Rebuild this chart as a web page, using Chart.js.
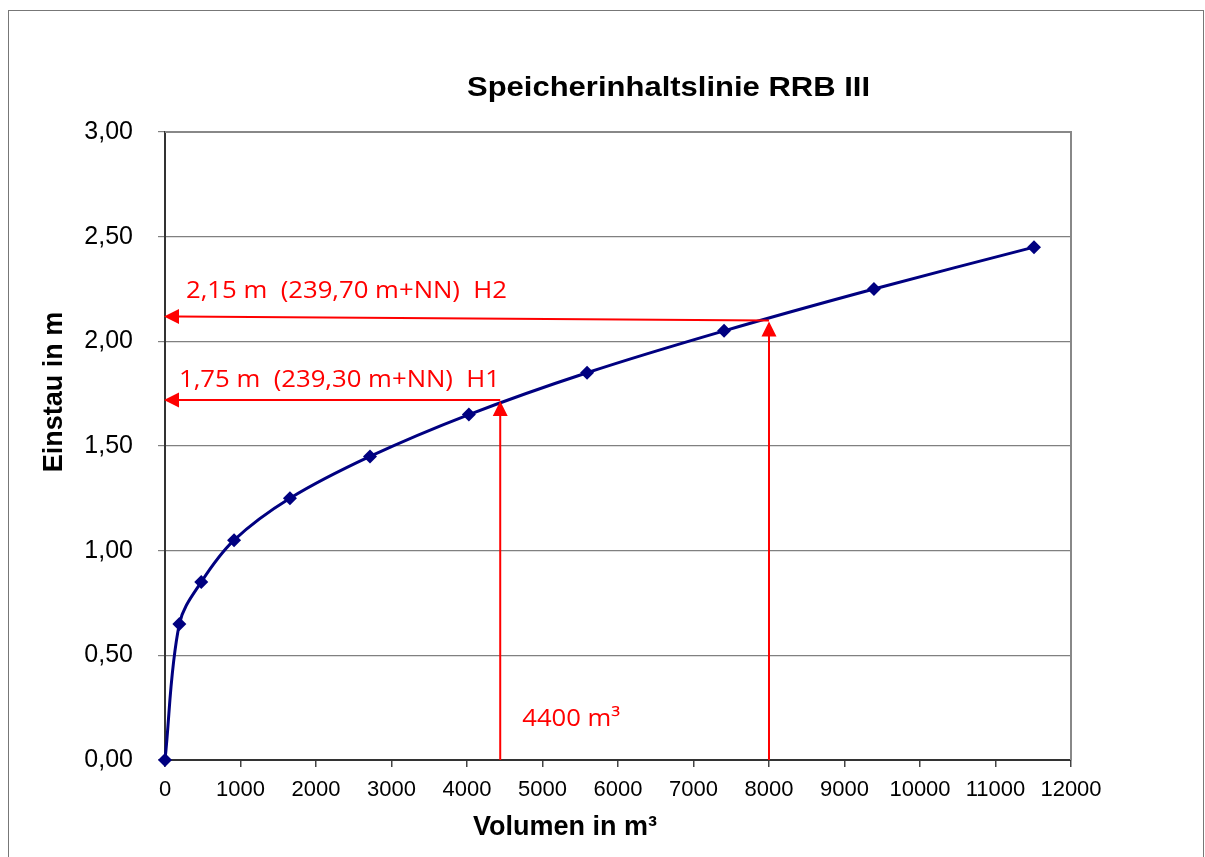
<!DOCTYPE html>
<html>
<head>
<meta charset="utf-8">
<script src="https://cdn.jsdelivr.net/npm/chart.js@4/dist/chart.umd.min.js"></script>
<style>
  html, body { margin: 0; padding: 0; background: #fff; }
  #wrap { position: relative; width: 1205px; height: 857px; overflow: hidden; }
  #frame { position: absolute; left: 8px; top: 10px; width: 1196px; height: 860px;
           border: 1px solid #777; box-sizing: border-box; }
  canvas { position: absolute; left: 0; top: 0; }
</style>
</head>
<body>
<div id="wrap">
  <div id="frame"></div>
  <canvas id="chart" width="1205" height="857"></canvas>
</div>
<script>
// Speicherinhaltslinie - Volumen (m³) gegen Einstau (m)
const volumes = [0, 190, 480, 915, 1655, 2715, 4025, 5590, 7405, 9390, 11510];
const levels = [0.00, 0.65, 0.85, 1.05, 1.25, 1.45, 1.65, 1.85, 2.05, 2.25, 2.45];
const yTicks = [0, 0.5, 1, 1.5, 2, 2.5, 3];
const xTicks = [0, 1000, 2000, 3000, 4000, 5000, 6000, 7000, 8000, 9000, 10000, 11000, 12000];

// Ablesehilfen (Pfeile)
const markVolumes = [4440, 8000];
const markLevels = [1.72, 2.10];
const markLabels = ["1,75 m  (239,30 m+NN)  H1", "2,15 m  (239,70 m+NN)  H2"];
const volumeLabel = "4400 m³";

const chartTitle = "Speicherinhaltslinie RRB III";
const xTitle = "Volumen in m³";
const yTitle = "Einstau in m";

const RED = "#ff0000";
const NAVY = "#000080";

function arrowHead(ctx, x, y, dir) {
  ctx.beginPath();
  if (dir === "left") {
    ctx.moveTo(x, y);
    ctx.lineTo(x + 15, y - 7.5);
    ctx.lineTo(x + 15, y + 7.5);
  } else {
    ctx.moveTo(x, y);
    ctx.lineTo(x - 7.5, y + 15);
    ctx.lineTo(x + 7.5, y + 15);
  }
  ctx.closePath();
  ctx.fill();
}

// Text in gegebener Breite (Excel-Schrift ist breiter als die installierten)
function fitText(ctx, text, x, y, width) {
  const w = ctx.measureText(text).width;
  ctx.save();
  ctx.translate(x, y);
  ctx.scale(width / w, 1);
  ctx.fillText(text, 0, 0);
  ctx.restore();
}

const decorPlugin = {
  id: "decor",
  beforeDatasetsDraw(chart) {
    const { ctx, chartArea } = chart;
    ctx.save();
    ctx.strokeStyle = "#888";
    ctx.lineWidth = 2;
    ctx.beginPath();
    ctx.moveTo(chartArea.left, chartArea.top);
    ctx.lineTo(chartArea.right, chartArea.top);
    ctx.lineTo(chartArea.right, chartArea.bottom);
    ctx.stroke();
    ctx.restore();
  },
  afterDatasetsDraw(chart) {
    const { ctx, scales } = chart;
    const x = scales.x, y = scales.y;
    const x0 = x.getPixelForValue(0);
    const y0 = y.getPixelForValue(0);
    ctx.save();
    ctx.strokeStyle = RED;
    ctx.fillStyle = RED;
    ctx.lineWidth = 2;
    ctx.font = "24px 'Open Sans', sans-serif";
    ctx.textBaseline = "middle";
    ctx.textAlign = "left";
    markVolumes.forEach((v, i) => {
      const px = x.getPixelForValue(v);
      const py = y.getPixelForValue(markLevels[i]);
      const drop = i === 1 ? 4 : 0;
      // senkrecht
      ctx.beginPath();
      ctx.moveTo(px, y0);
      ctx.lineTo(px, py + 12);
      ctx.stroke();
      arrowHead(ctx, px, py + 1, "up");
      // waagerecht
      ctx.beginPath();
      ctx.moveTo(px, py);
      ctx.lineTo(x0 + 12, py - drop);
      ctx.stroke();
      arrowHead(ctx, x0 - 1, py - drop, "left");
      // Beschriftung
      fitText(ctx, markLabels[i], x0 + (i === 1 ? 21 : 14), py - drop - (i === 1 ? 25 : 20), 321);
    });
    fitText(ctx, volumeLabel, x.getPixelForValue(markVolumes[0]) + 22, y0 - 41, 98);

    // Titel und Achsentitel
    ctx.fillStyle = "#000";
    ctx.font = "bold 28px 'Liberation Sans', Arial, sans-serif";
    ctx.textBaseline = "alphabetic";
    fitText(ctx, chartTitle, 467, 96, 403);

    ctx.font = "bold 27px 'Liberation Sans', Arial, sans-serif";
    ctx.textAlign = "center";
    ctx.textBaseline = "middle";
    ctx.fillText(xTitle, 565, 828);
    ctx.save();
    ctx.translate(55, 392);
    ctx.rotate(-Math.PI / 2);
    ctx.fillText(yTitle, 0, 0);
    ctx.restore();
    ctx.restore();
  }
};

const fam = "'Liberation Sans', Arial, sans-serif";

new Chart(document.getElementById("chart"), {
  type: "line",
  data: {
    datasets: [{
      label: "Speicherinhalt",
      data: volumes.map((v, i) => ({ x: v, y: levels[i] })),
      borderColor: NAVY,
      backgroundColor: NAVY,
      borderWidth: 3,
      pointStyle: "rectRot",
      pointRadius: 7,
      pointBorderWidth: 0,
      tension: 0.35,
      clip: false,
    }],
  },
  options: {
    responsive: false,
    animation: false,
    layout: { padding: { left: 0, right: 134, top: 132, bottom: 0 } },
    plugins: {
      legend: { display: false },
      tooltip: { enabled: false },
    },
    scales: {
      x: {
        type: "linear",
        min: 0,
        max: 12000,
        afterBuildTicks: (s) => { s.ticks = xTicks.map((v) => ({ value: v })); },
        afterFit: (s) => { s.height = 97; },
        ticks: { color: "#000", font: { family: fam, size: 22 }, padding: 10, maxRotation: 0, autoSkip: false,
                 callback: (v) => String(v) },
        grid: { drawOnChartArea: false, tickLength: 7, color: "#444", lineWidth: 1.5 },
        border: { display: true, color: "#333", width: 2 },
      },
      y: {
        type: "linear",
        min: 0,
        max: 3,
        afterBuildTicks: (s) => { s.ticks = yTicks.map((v) => ({ value: v })); },
        afterFit: (s) => { s.width = 165; },
        ticks: {
          color: "#000",
          font: { family: fam, size: 25 },
          padding: 25,
          callback: (v) => v.toFixed(2).replace(".", ","),
        },
        grid: { color: "#808080", lineWidth: 1.2, tickLength: 7 },
        border: { display: true, color: "#333", width: 2 },
      },
    },
  },
  plugins: [decorPlugin],
});
</script>
</body>
</html>
